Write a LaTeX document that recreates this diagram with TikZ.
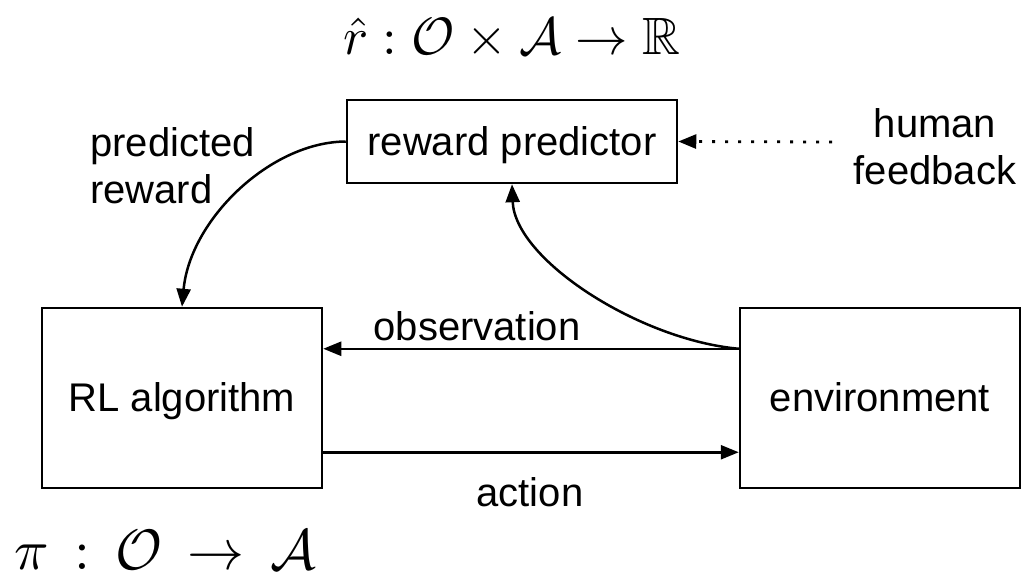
\documentclass[tikz,border=0pt]{standalone}
\usepackage{amssymb}
\usepackage{fontspec}
\setmainfont{Liberation Sans}
\usetikzlibrary{arrows.meta}
\begin{document}
\begin{tikzpicture}[x=1pt,y=-1pt,
  txt/.style={font=\fontsize{40}{47}\selectfont},
  box/.style={draw, line width=2.5pt, inner sep=0pt, text height=27pt, text depth=0pt, txt},
  lbl/.style={inner sep=0pt, txt, align=center},
  mth/.style={inner sep=0pt},
  arr/.style={line width=2.5pt, -{Triangle[length=18pt,width=14pt]}},
  dotarr/.style={line width=2.8pt, dash pattern=on 2.8pt off 10.2pt, -{Triangle[length=18pt,width=14pt]}},
]
\useasboundingbox (0,0) rectangle (1023,576);
\node[box, minimum width=330pt, minimum height=83pt] (rp) at (512,141.5) {reward predictor};
\node[box, minimum width=280pt, minimum height=180pt] (rl) at (182,398) {RL algorithm};
\node[box, minimum width=280pt, minimum height=180pt] (env) at (880,398) {environment};

\node[mth, scale=5.25] (fr) at (512,38) {$\hat{r}:\mathcal{O}\times\mathcal{A}\rightarrow\mathbb{R}$};
\node[mth, scale=5.7] (fp) at (165,550) {$\pi\,:\,\mathcal{O}\,\rightarrow\,\mathcal{A}$};

\node[lbl, align=left, anchor=west] (pr) at (90,166) {predicted\\reward};
\node[lbl] (hf) at (935,147) {human\\feedback};
\node[lbl] (obs) at (477,326) {observation};
\node[lbl] (act) at (530,492) {action};

\coordinate (hfstart) at (832,142);
\draw[dotarr] (hfstart) -- (rp.east);

\draw[arr] ([yshift=-42pt]env.north west) -- ([yshift=-42pt]env.north west -| rl.east);
\draw[arr] ([yshift=37pt]rl.south east) -- ([yshift=37pt]rl.south east -| env.west);

\draw[arr] (rp.west) .. controls (270,142) and (190,220) .. (rl.north);
\draw[arr] ([yshift=-42pt]env.north west) .. controls (640,340) and (515,260) .. (rp.south);
\end{tikzpicture}
\end{document}
